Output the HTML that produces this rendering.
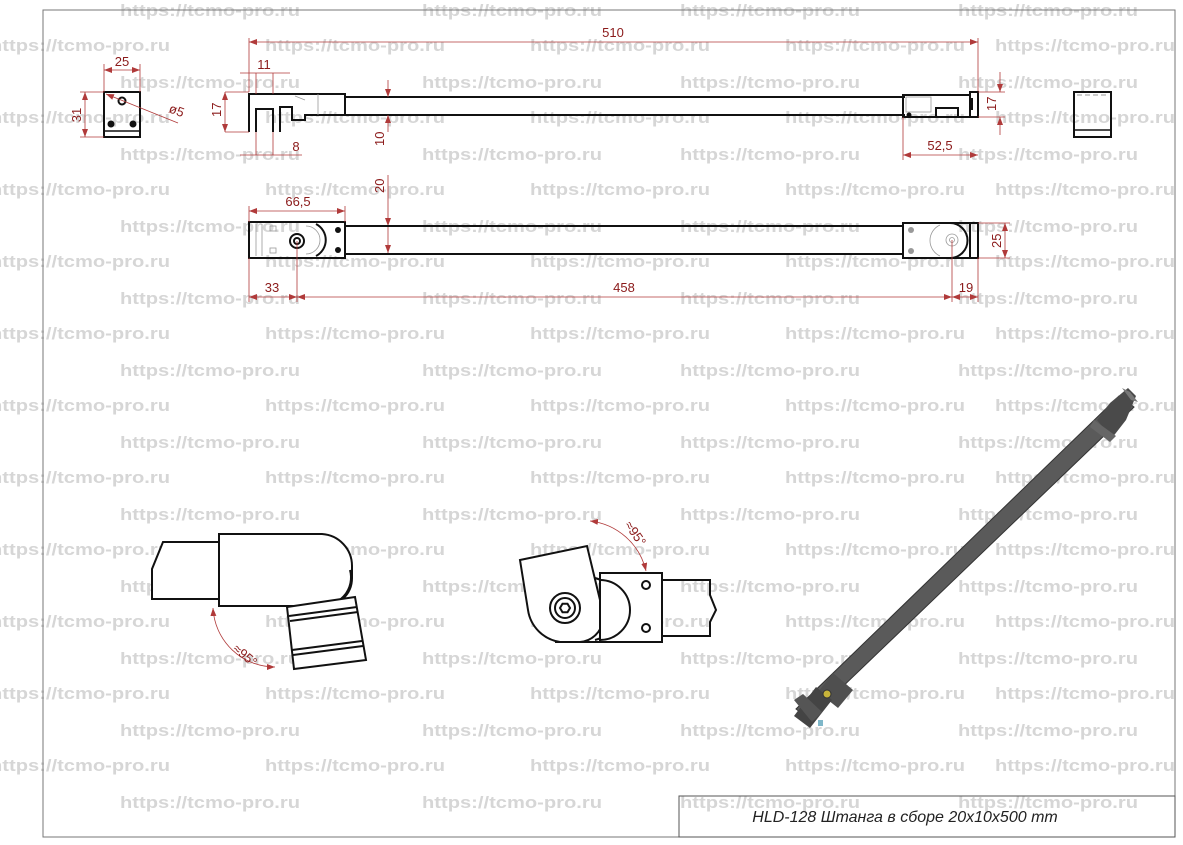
<!DOCTYPE html>
<html><head><meta charset="utf-8"><style>
html,body{margin:0;padding:0;background:#fff;}
svg{display:block;}
.wm{font-family:"Liberation Sans",sans-serif;font-weight:bold;font-size:17px;fill:#d6d6d6;}
.d{stroke:#b03a3a;stroke-width:0.8;fill:none;}
.dt{font-family:"Liberation Sans",sans-serif;font-size:13px;fill:#8b1a1a;}
.k{stroke:#111;stroke-width:2;fill:none;}
.kf{stroke:#111;stroke-width:2;fill:#fff;}
.th{stroke:#999;stroke-width:0.8;fill:none;}
</style></head><body>
<svg width="1183" height="845" viewBox="0 0 1183 845" xmlns="http://www.w3.org/2000/svg">
<defs>
<marker id="a" markerWidth="8" markerHeight="6" refX="8" refY="3" orient="auto-start-reverse" markerUnits="userSpaceOnUse"><path d="M0,0 L8,3 L0,6z" fill="#b03a3a"/></marker>
</defs>
<g class="wm">
<g id="ra">
<text x="120" y="16" textLength="180" lengthAdjust="spacingAndGlyphs">https://tcmo-pro.ru</text><text x="422" y="16" textLength="180" lengthAdjust="spacingAndGlyphs">https://tcmo-pro.ru</text><text x="680" y="16" textLength="180" lengthAdjust="spacingAndGlyphs">https://tcmo-pro.ru</text><text x="958" y="16" textLength="180" lengthAdjust="spacingAndGlyphs">https://tcmo-pro.ru</text>
</g>
<g id="rb">
<text x="-10" y="51" textLength="180" lengthAdjust="spacingAndGlyphs">https://tcmo-pro.ru</text><text x="265" y="51" textLength="180" lengthAdjust="spacingAndGlyphs">https://tcmo-pro.ru</text><text x="530" y="51" textLength="180" lengthAdjust="spacingAndGlyphs">https://tcmo-pro.ru</text><text x="785" y="51" textLength="180" lengthAdjust="spacingAndGlyphs">https://tcmo-pro.ru</text><text x="995" y="51" textLength="180" lengthAdjust="spacingAndGlyphs">https://tcmo-pro.ru</text>
</g>
<use href="#ra" y="72"/><use href="#ra" y="144"/><use href="#ra" y="216"/><use href="#ra" y="288"/><use href="#ra" y="360"/><use href="#ra" y="432"/><use href="#ra" y="504"/><use href="#ra" y="576"/><use href="#ra" y="648"/><use href="#ra" y="720"/><use href="#ra" y="792"/>
<use href="#rb" y="72"/><use href="#rb" y="144"/><use href="#rb" y="216"/><use href="#rb" y="288"/><use href="#rb" y="360"/><use href="#rb" y="432"/><use href="#rb" y="504"/><use href="#rb" y="576"/><use href="#rb" y="648"/><use href="#rb" y="720"/>
</g>
<rect x="43" y="10" width="1132" height="827" fill="none" stroke="#777" stroke-width="1"/>
<rect x="679" y="796" width="496" height="41" fill="none" stroke="#555" stroke-width="1"/>
<text x="905" y="822" text-anchor="middle" font-family="'Liberation Sans Narrow','Liberation Sans',sans-serif" font-style="italic" font-size="16" fill="#222">HLD-128 Штанга в сборе 20x10x500 mm</text>

<rect x="104" y="92" width="36" height="45" class="k"/>
<line x1="104" y1="131" x2="140" y2="131" stroke="#111" stroke-width="1.5"/>
<circle cx="122" cy="101" r="3.5" class="k" stroke-width="1.5"/>
<circle cx="111" cy="124" r="3.5" fill="#111"/><circle cx="133" cy="124" r="3.5" fill="#111"/>
<line x1="104" y1="92" x2="104" y2="64" class="d"/><line x1="140" y1="92" x2="140" y2="64" class="d"/>
<line x1="104" y1="70" x2="140" y2="70" class="d" marker-start="url(#a)" marker-end="url(#a)"/>
<text x="122" y="66" class="dt" text-anchor="middle">25</text>
<line x1="104" y1="92" x2="80" y2="92" class="d"/><line x1="104" y1="137" x2="80" y2="137" class="d"/>
<line x1="85" y1="92" x2="85" y2="137" class="d" marker-start="url(#a)" marker-end="url(#a)"/>
<text x="81" y="115" class="dt" text-anchor="middle" transform="rotate(-90 81 115)">31</text>
<line x1="106" y1="94" x2="178" y2="123" class="d" marker-start="url(#a)"/>
<text x="168" y="112" class="dt" transform="rotate(20 168 112)">ø5</text>

<line x1="345" y1="97" x2="905" y2="97" stroke="#111" stroke-width="2"/>
<line x1="345" y1="115" x2="905" y2="115" stroke="#111" stroke-width="2"/>
<path d="M249,132 V94 H345 V115 H305 V120 H292 V107 H280 V120" class="k"/>
<path d="M256,132 V109 H273 V132" class="k" stroke-width="3"/>
<line x1="280" y1="120" x2="280" y2="132" class="k" stroke-width="1.5"/>
<line x1="318" y1="94" x2="318" y2="115" class="th"/>
<line x1="295" y1="96" x2="305" y2="100" class="th"/>
<line x1="225" y1="92" x2="249" y2="92" class="d"/><line x1="225" y1="132" x2="249" y2="132" class="d"/>
<line x1="225" y1="92" x2="225" y2="132" class="d" marker-start="url(#a)" marker-end="url(#a)"/>
<text x="221" y="117" class="dt" transform="rotate(-90 221 117)">17</text>
<line x1="256" y1="73" x2="256" y2="94" class="d"/><line x1="273" y1="73" x2="273" y2="94" class="d"/>
<line x1="240" y1="73" x2="290" y2="73" class="d"/>
<text x="264" y="69" class="dt" text-anchor="middle">11</text>
<line x1="256" y1="132" x2="256" y2="155" class="d"/><line x1="273" y1="132" x2="273" y2="155" class="d"/>
<line x1="240" y1="155" x2="302" y2="155" class="d"/>
<text x="296" y="151" class="dt" text-anchor="middle">8</text>
<line x1="249" y1="92" x2="249" y2="38" class="d"/><line x1="978" y1="92" x2="978" y2="38" class="d"/>
<line x1="249" y1="42" x2="978" y2="42" class="d" marker-start="url(#a)" marker-end="url(#a)"/>
<text x="613" y="37" class="dt" text-anchor="middle">510</text>
<line x1="388" y1="80" x2="388" y2="97" class="d" marker-end="url(#a)"/>
<line x1="388" y1="132" x2="388" y2="115" class="d" marker-end="url(#a)"/>
<text x="384" y="146" class="dt" transform="rotate(-90 384 146)">10</text>
<line x1="388" y1="175" x2="388" y2="226" class="d" marker-end="url(#a)"/>
<text x="384" y="193" class="dt" transform="rotate(-90 384 193)">20</text>
<line x1="388" y1="226" x2="388" y2="253" class="d" marker-end="url(#a)"/>

<path d="M903,95 H970 V92 H978 V117 H903 Z" class="k"/>
<path d="M936,117 V108 H958 V117" class="k" stroke-width="1.5"/>
<line x1="970" y1="95" x2="970" y2="117" stroke="#111" stroke-width="2"/>
<rect x="969" y="98" width="4" height="12" fill="#111"/>
<rect x="906" y="97" width="25" height="15" class="th"/>
<circle cx="909" cy="115" r="2.5" fill="#111"/>
<line x1="978" y1="92" x2="1005" y2="92" class="d"/><line x1="978" y1="117" x2="1005" y2="117" class="d"/>
<line x1="1000" y1="72" x2="1000" y2="92" class="d" marker-end="url(#a)"/>
<line x1="1000" y1="135" x2="1000" y2="117" class="d" marker-end="url(#a)"/>
<text x="996" y="111" class="dt" transform="rotate(-90 996 111)">17</text>
<line x1="903" y1="117" x2="903" y2="160" class="d"/>
<line x1="903" y1="155" x2="978" y2="155" class="d" marker-start="url(#a)" marker-end="url(#a)"/>
<text x="940" y="150" class="dt" text-anchor="middle">52,5</text>

<rect x="1074" y="92" width="37" height="45" class="k"/>
<line x1="1074" y1="130" x2="1111" y2="130" stroke="#111" stroke-width="1.5"/>
<line x1="1077" y1="95" x2="1108" y2="95" stroke="#999" stroke-width="1" stroke-dasharray="5,3"/>

<line x1="345" y1="226" x2="903" y2="226" stroke="#111" stroke-width="2"/>
<line x1="345" y1="254" x2="903" y2="254" stroke="#111" stroke-width="2"/>
<rect x="249" y="222" width="96" height="36" class="k"/>
<path d="M316,224 A18,18 0 0 1 316,256" class="k"/>
<path d="M306,226 A14,14 0 0 1 306,254" class="th"/>
<circle cx="297" cy="241" r="7" class="k" stroke-width="1.5"/>
<circle cx="297" cy="241" r="3" class="k" stroke-width="1.2"/>
<circle cx="338" cy="230" r="3" fill="#111"/><circle cx="338" cy="250" r="3" fill="#111"/>
<rect x="270" y="226" width="6" height="5" class="th"/><rect x="270" y="248" width="6" height="5" class="th"/>
<line x1="256" y1="224" x2="256" y2="256" class="th"/><line x1="262" y1="224" x2="262" y2="256" class="th"/>
<line x1="249" y1="222" x2="249" y2="206" class="d"/><line x1="345" y1="222" x2="345" y2="206" class="d"/>
<line x1="249" y1="211" x2="345" y2="211" class="d" marker-start="url(#a)" marker-end="url(#a)"/>
<text x="298" y="206" class="dt" text-anchor="middle">66,5</text>
<line x1="249" y1="258" x2="249" y2="302" class="d"/><line x1="297" y1="241" x2="297" y2="302" class="d"/>
<line x1="249" y1="297" x2="297" y2="297" class="d" marker-start="url(#a)" marker-end="url(#a)"/>
<text x="272" y="292" class="dt" text-anchor="middle">33</text>
<line x1="297" y1="297" x2="952" y2="297" class="d" marker-start="url(#a)" marker-end="url(#a)"/>
<text x="624" y="292" class="dt" text-anchor="middle">458</text>
<rect x="903" y="223" width="75" height="35" class="k"/>
<line x1="970" y1="223" x2="970" y2="258" stroke="#111" stroke-width="2"/>
<path d="M950,223 A17,17 0 0 1 950,258" class="k"/>
<path d="M940,225 A17,17 0 0 0 940,256" class="th"/>
<circle cx="952" cy="240" r="6" class="th"/><circle cx="952" cy="240" r="2.5" class="th"/>
<circle cx="911" cy="230" r="3" fill="#999"/><circle cx="911" cy="251" r="3" fill="#999"/>
<line x1="952" y1="240" x2="952" y2="302" class="d"/><line x1="978" y1="258" x2="978" y2="302" class="d"/>
<line x1="952" y1="297" x2="978" y2="297" class="d" marker-start="url(#a)" marker-end="url(#a)"/>
<text x="966" y="292" class="dt" text-anchor="middle">19</text>
<line x1="978" y1="223" x2="1010" y2="223" class="d"/><line x1="978" y1="258" x2="1010" y2="258" class="d"/>
<line x1="1005" y1="223" x2="1005" y2="258" class="d" marker-start="url(#a)" marker-end="url(#a)"/>
<text x="1001" y="248" class="dt" transform="rotate(-90 1001 248)">25</text>

<path d="M163,542 H219 V599 H152 V569 Z" class="kf"/>
<path d="M219,534 H322 A32,32 0 0 1 352,566 L352,578 A28,28 0 0 1 322,606 H219 Z" class="kf"/>
<path d="M318,605 A28,28 0 0 0 350,570" class="k" stroke-width="1.5"/>
<path d="M287,607 L355,597 L366,660 L294,669 Z" class="kf"/>
<line x1="289" y1="616" x2="357" y2="607" class="k" stroke-width="1.5"/>
<line x1="290" y1="621" x2="358" y2="612" class="k" stroke-width="1.2"/>
<line x1="292" y1="650" x2="362" y2="641" class="k" stroke-width="1.5"/>
<line x1="293" y1="655" x2="363" y2="646" class="k" stroke-width="1.2"/>
<path d="M213,608 A62,62 0 0 0 275,667" class="d" marker-start="url(#a)" marker-end="url(#a)"/>
<text x="232" y="650" class="dt" transform="rotate(40 232 650)">≈95°</text>

<path d="M520,560 L587,546 L600,600 L603,620 A25,25 0 0 1 580,642 H560 A38,38 0 0 1 528,610 Z" class="kf"/>
<path d="M595,578 A32,32 0 0 1 595,640" class="k"/>
<rect x="600" y="573" width="62" height="69" class="kf"/>
<path d="M600,580 A30,30 0 0 1 600,640" class="k" stroke-width="1.5"/>
<line x1="555" y1="642" x2="662" y2="642" stroke="#111" stroke-width="2"/>
<circle cx="565" cy="608" r="15" class="k"/>
<circle cx="565" cy="608" r="10" class="k" stroke-width="1.2"/>
<polygon points="570,608 567.5,612.3 562.5,612.3 560,608 562.5,603.7 567.5,603.7" class="k" stroke-width="1"/>
<circle cx="646" cy="585" r="4" class="k"/><circle cx="646" cy="628" r="4" class="k"/>
<path d="M662,580 H710 L710,595 L716,610 L710,622 L710,636 H662" class="k"/>
<path d="M590,521 A65,65 0 0 1 646,571" class="d" marker-start="url(#a)" marker-end="url(#a)"/>
<text x="624" y="525" class="dt" transform="rotate(55 624 525)">≈95°</text>

<g>
<polygon points="1119,396 1134,407 809,719 796,709" fill="#5a5a5a" stroke="#333" stroke-width="1"/>
<polygon points="1097,420 1110,403 1128,388 1136,396 1126,420 1112,438" fill="#4a4a4a"/>
<polygon points="1122,388 1130,392 1138,402 1131,400" fill="#777"/>
<polygon points="1094,420 1116,436 1110,442 1090,427" fill="#666"/>
<polygon points="833,673 853,690 838,708 818,692" fill="#4f4f4f"/>
<polygon points="816,687 832,700 810,728 794,716" fill="#444"/>
<polygon points="794,700 803,694 822,712 812,722" fill="#555"/>
<circle cx="827" cy="694" r="4" fill="#c8b43a" stroke="#333" stroke-width="1"/>
<rect x="818" y="720" width="5" height="6" fill="#7fb7c9"/>
</g>
</svg>
</body></html>
